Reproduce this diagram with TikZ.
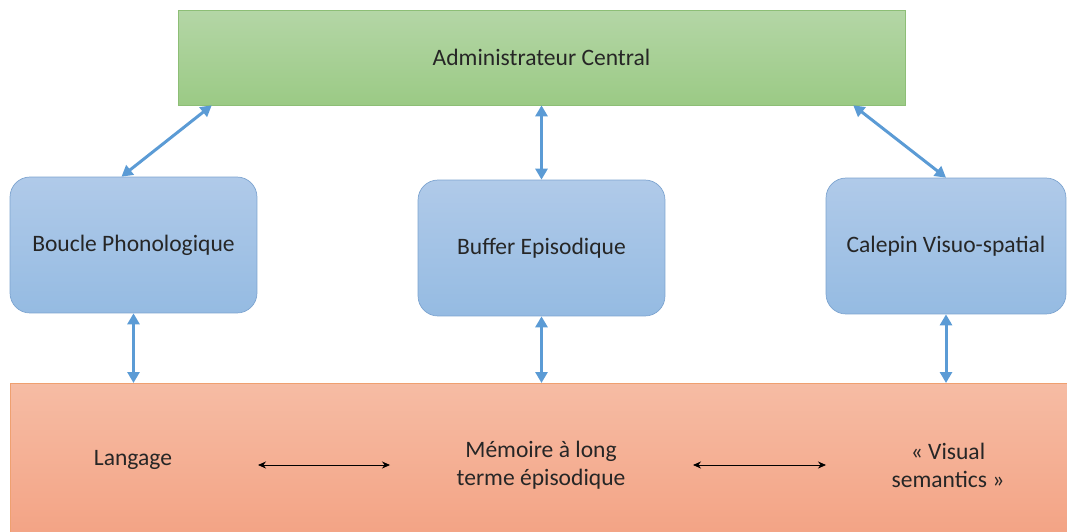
\documentclass[tikz,border=0pt]{standalone}
\usepackage{fontspec}
\setmainfont{Carlito}
\usetikzlibrary{arrows.meta}
\definecolor{greentop}{HTML}{B4D6A6}
\definecolor{greenbot}{HTML}{9BCA85}
\definecolor{greenline}{HTML}{8DBE76}
\definecolor{bluetop}{HTML}{B0CAE9}
\definecolor{bluebot}{HTML}{95BBE2}
\definecolor{blueline}{HTML}{7DA4D0}
\definecolor{orangetop}{HTML}{F6BCA4}
\definecolor{orangebot}{HTML}{F3A283}
\definecolor{orangeline}{HTML}{EFA070}
\definecolor{arrowblue}{HTML}{5B9BD5}
\tikzset{
  boxtext/.style={font=\fontsize{13.4}{16}\selectfont, text=black!85, align=center},
  memorybox/.style={boxtext, rounded corners=0.4cm, draw=blueline, top color=bluetop, bottom color=bluebot, minimum width=4.94cm, minimum height=2.72cm},
  bluelink/.style={draw=arrowblue, line width=1.7pt, {Triangle[length=2.2mm,width=2.4mm]}-{Triangle[length=2.2mm,width=2.4mm]}},
  blacklink/.style={draw=black, line width=0.5pt, {Stealth[length=1.6mm,width=1.4mm]}-{Stealth[length=1.6mm,width=1.4mm]}}
}
\begin{document}
\begin{tikzpicture}[x=0.02cm, y=-0.02cm]
			%%%%% START %%%%%
			\useasboundingbox (0, 0) rectangle (1067, 531);
			\clip (0, 0) rectangle (1067, 531);
			
			% central executive
			\node[boxtext, draw=greenline, top color=greentop, bottom color=greenbot, minimum width=14.54cm, minimum height=1.9cm] (admin) at (541.5, 57.5) {Administrateur Central};
			
			% three slave systems
			\node[memorybox] (boucle) at (133.5, 245) {Boucle Phonologique};
			\node[memorybox] (buffer) at (541.5, 248) {Buffer Episodique};
			\node[memorybox, minimum width=4.8cm] (calepin) at (946, 246) {Calepin Visuo-spatial};
			
			% long term memory
			\node[draw=orangeline, top color=orangetop, bottom color=orangebot, minimum width=21.4cm, minimum height=3.2cm, anchor=north west] (ltm) at (10, 383) {};
			\node[boxtext] (langage) at (133, 460) {Langage};
			\node[boxtext] (memoire) at (541, 465) {Mémoire à long\\terme épisodique};
			\node[boxtext] (visual) at (948, 465) {« Visual\\semantics »};
			
			% links to the central executive
			\draw[bluelink] ([xshift=0.68cm]admin.south west) -- ([xshift=-0.24cm]boucle.north);
			\draw[bluelink] (admin.south) -- (buffer.north);
			\draw[bluelink] ([xshift=-1.04cm]admin.south east) -- (calepin.north);
			
			% links to long term memory
			\draw[bluelink] (boucle.south) -- (boucle.south |- ltm.north);
			\draw[bluelink] (buffer.south) -- (buffer.south |- ltm.north);
			\draw[bluelink] (calepin.south) -- (calepin.south |- ltm.north);
			
			% links inside long term memory
			\coordinate (l1) at (258, 465);
			\coordinate (l2) at (390, 465);
			\coordinate (r1) at (693, 465);
			\coordinate (r2) at (826, 465);
			\draw[blacklink] (l1) -- (l2);
			\draw[blacklink] (r1) -- (r2);
			
			%%%%% END %%%%%
\end{tikzpicture}
\end{document}
